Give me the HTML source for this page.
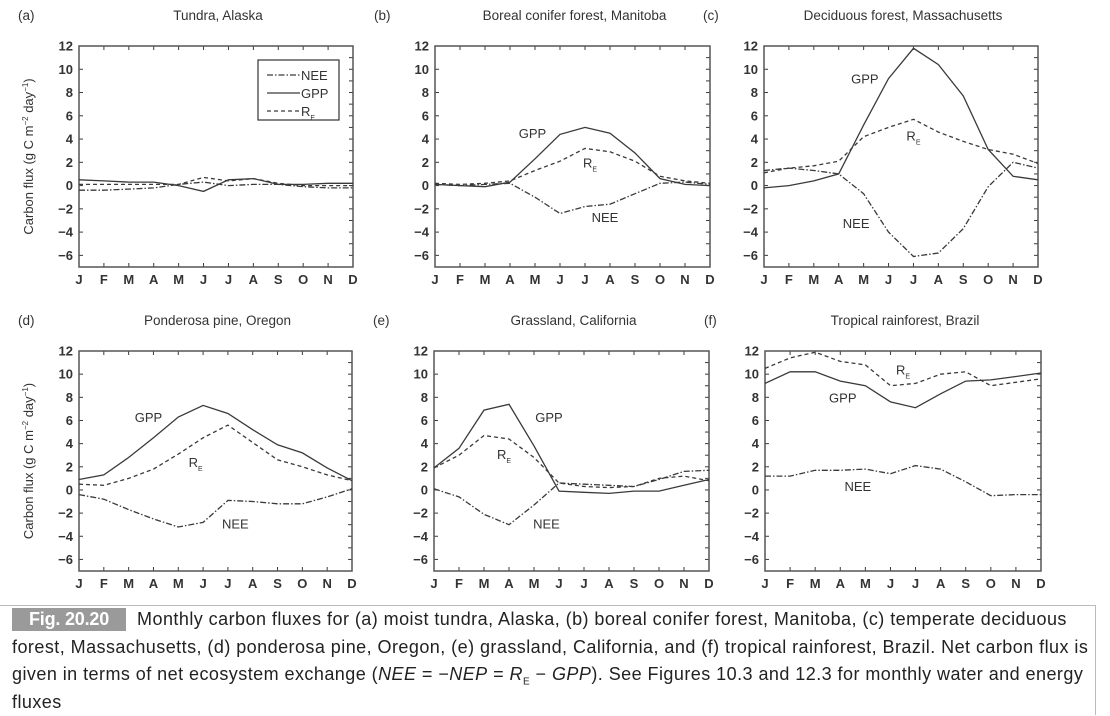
<!DOCTYPE html>
<html><head><meta charset="utf-8">
<style>
html,body{margin:0;padding:0;background:#fff;}
body{width:1110px;height:708px;overflow:hidden;position:relative;font-family:"Liberation Sans",Arial,sans-serif;}
#cap{position:absolute;left:0;top:605px;width:1096px;height:110px;border-top:1px solid #bbb;border-right:1px solid #bbb;
 font-family:"Liberation Sans",sans-serif;font-size:18px;line-height:27.5px;color:#222;padding:0 0 0 12px;box-sizing:border-box;white-space:nowrap;letter-spacing:0.45px;}
#cap .fig{background:#9a9a9a;color:#fff;font-weight:bold;padding:1px 17px 1px 17px;margin-right:11px;display:inline-block;line-height:21px;letter-spacing:-0.2px;}
#cap sub{font-size:10px;line-height:0;}
</style></head>
<body>
<svg id="chart" width="1110" height="605" style="position:absolute;left:0;top:0" font-family="Liberation Sans, Arial, sans-serif"></svg>
<div id="cap"><span class="fig">Fig. 20.20</span>Monthly carbon fluxes for (a) moist tundra, Alaska, (b) boreal conifer forest, Manitoba, (c) temperate deciduous<br>forest, Massachusetts, (d) ponderosa pine, Oregon, (e) grassland, California, and (f) tropical rainforest, Brazil. Net carbon flux is<br>given in terms of net ecosystem exchange (<i>NEE</i> = &minus;<i>NEP</i> = <i>R</i><sub>E</sub> &minus; <i>GPP</i>). See Figures 10.3 and 12.3 for monthly water and energy<br>fluxes</div>
<script>
const months = ["J","F","M","A","M","J","J","A","S","O","N","D"];
const yTicks = [12,10,8,6,4,2,0,-2,-4,-6];
const titles = ["Tundra, Alaska","Boreal conifer forest, Manitoba","Deciduous forest, Massachusetts","Ponderosa pine, Oregon","Grassland, California","Tropical rainforest, Brazil"];
const letters = ["(a)","(b)","(c)","(d)","(e)","(f)"];
const neeA = [-0.4,-0.4,-0.3,-0.2,0.1,0.3,0.0,0.1,0.1,-0.1,-0.2,-0.2];
const gppA = [0.5,0.4,0.3,0.3,0.0,-0.5,0.5,0.6,0.1,0.1,0.2,0.2];
const reA  = [0.1,0.1,0.1,0.1,0.1,0.7,0.4,0.6,0.2,0.0,0.0,0.0];
const neeB = [0.1,0.0,0.1,0.2,-1.0,-2.4,-1.8,-1.6,-0.7,0.2,0.3,0.1];
const gppB = [0.1,0.0,-0.1,0.3,2.3,4.4,5.0,4.5,2.8,0.6,0.1,0.0];
const reB  = [0.2,0.1,0.2,0.4,1.3,2.1,3.2,2.9,2.1,0.8,0.4,0.2];
const neeC = [1.3,1.5,1.3,1.0,-0.7,-4.0,-6.1,-5.8,-3.7,-0.1,2.0,1.5];
const gppC = [-0.2,0.0,0.4,1.0,5.2,9.2,11.8,10.4,7.7,3.1,0.8,0.5];
const reC  = [1.1,1.5,1.7,2.1,4.2,5.0,5.7,4.6,3.8,3.1,2.7,1.9];
const neeD = [-0.4,-0.8,-1.7,-2.5,-3.2,-2.8,-0.9,-1.0,-1.2,-1.2,-0.6,0.1];
const gppD = [0.9,1.3,2.8,4.5,6.3,7.3,6.6,5.2,3.9,3.2,1.9,0.8];
const reD  = [0.5,0.4,1.0,1.8,3.1,4.5,5.6,4.1,2.6,2.0,1.3,0.8];
const neeE = [0.1,-0.6,-2.1,-3.0,-1.3,0.6,0.5,0.4,0.3,0.9,1.6,1.7];
const gppE = [1.9,3.6,6.9,7.4,3.8,-0.1,-0.2,-0.3,-0.1,-0.1,0.4,0.9];
const reE  = [1.9,3.0,4.7,4.4,2.8,0.6,0.3,0.2,0.3,1.0,1.2,0.8];
const neeF = [1.2,1.2,1.7,1.7,1.8,1.4,2.1,1.8,0.7,-0.5,-0.4,-0.4];
const gppF = [9.2,10.2,10.2,9.4,9.0,7.6,7.1,8.3,9.4,9.5,9.8,10.1];
const reF  = [10.5,11.4,11.9,11.1,10.8,9.0,9.2,10.0,10.2,9.0,9.3,9.6];

const svg = document.getElementById('chart');
const NS = 'http://www.w3.org/2000/svg';
function mk(tag, attrs, parent){const e=document.createElementNS(NS,tag);for(const k in attrs)e.setAttribute(k,attrs[k]);(parent||svg).appendChild(e);return e;}

const panels = [
 {x0:79,x1:353,y0:46,y1:267,nee:neeA,gpp:gppA,re:reA,ylab:true,labels:null,legend:true},
 {x0:435,x1:710,y0:46,y1:267,nee:neeB,gpp:gppB,re:reB,labels:[[3.9,4.5],[6.2,2.0],[6.8,-2.7]]},
 {x0:764,x1:1038,y0:46,y1:267,nee:neeC,gpp:gppC,re:reC,labels:[[4.05,9.2],[6.0,4.3],[3.7,-3.2]]},
 {x0:79,x1:352,y0:351,y1:571,nee:neeD,gpp:gppD,re:reD,ylab:true,labels:[[2.8,6.3],[4.7,2.4],[6.3,-2.9]]},
 {x0:434,x1:709,y0:351,y1:571,nee:neeE,gpp:gppE,re:reE,labels:[[4.6,6.3],[2.8,3.1],[4.5,-2.9]]},
 {x0:765,x1:1041,y0:351,y1:571,nee:neeF,gpp:gppF,re:reF,labels:[[3.1,8.0],[5.5,10.4],[3.7,0.35]]}
];
const YMAX=12, YMIN=-7;
const col='#3a3a3a';
panels.forEach((p,i)=>{
  const g = mk('g',{});
  
  
  const xs = m => p.x0 + (p.x1-p.x0)*m/11;
  const ys = v => p.y0 + (p.y1-p.y0)*(YMAX-v)/(YMAX-YMIN);
  const cx=(p.x0+p.x1)/2;
  const t1=mk('text',{x:p.x0-61,y:p.y0-26,'font-size':13.5,fill:'#333'},g); t1.textContent=letters[i];
   
  const t2=mk('text',{x:cx+2,y:p.y0-26,'font-size':13.5,fill:'#333','text-anchor':'middle'},g); t2.textContent=titles[i];
   
  for(let m=0;m<12;m++){
    mk('line',{x1:xs(m),x2:xs(m),y1:p.y1,y2:p.y1-4,stroke:col,'stroke-width':1},g);
    mk('line',{x1:xs(m),x2:xs(m),y1:p.y0,y2:p.y0+4,stroke:col,'stroke-width':1},g);
    const mt=mk('text',{x:xs(m),y:p.y1+17,'font-size':13,'font-weight':'bold',fill:'#333','text-anchor':'middle'},g);
    mt.textContent=months[m];
     
  }
  for(let v=YMIN;v<=YMAX;v++){
    mk('line',{x1:p.x1,x2:p.x1-4,y1:ys(v),y2:ys(v),stroke:col,'stroke-width':1},g);
  }
  yTicks.forEach(v=>{
    mk('line',{x1:p.x0,x2:p.x0+4,y1:ys(v),y2:ys(v),stroke:col,'stroke-width':1},g);
    const yt=mk('text',{x:p.x0-6,y:ys(v)+4.5,'font-size':13,'font-weight':'bold',fill:'#333','text-anchor':'end'},g);
    yt.textContent=(v<0?'\u2212'+(-v):String(v));
     
  });
  mk('rect',{x:p.x0,y:p.y0,width:p.x1-p.x0,height:p.y1-p.y0,fill:'none',stroke:'#555','stroke-width':1.5},g);
  if(p.ylab){
    const yl=mk('text',{x:0,y:0,'font-size':13,fill:'#333','text-anchor':'middle',transform:`translate(${p.x0-46},${(p.y0+p.y1)/2}) rotate(-90)`},g);
    yl.innerHTML='Carbon flux (g C m<tspan font-size="8" dy="-5">\u22122</tspan><tspan dy="5"> day</tspan><tspan font-size="8" dy="-5">\u22121</tspan><tspan dy="5">)</tspan>';
     
  }
  const series=[[p.nee,'6 2 1.5 2','nee'],[p.gpp,'none','gpp'],[p.re,'4 3','re']];
  series.forEach(s=>{
    const d=s[0].map((v,m)=>(m?'L':'M')+xs(m).toFixed(1)+','+ys(v).toFixed(1)).join(' ');
    const path=mk('path',{d:d,fill:'none',stroke:col,'stroke-width':1.3,'stroke-dasharray':s[1]},g);
    
    
  });
  if(p.labels){
    const names=['GPP','RE','NEE'];
    p.labels.forEach((L,k)=>{
      const t=mk('text',{x:xs(L[0]),y:ys(L[1])+5,'font-size':13,fill:'#333','text-anchor':'middle'},g);
      if(names[k]==='RE'){t.innerHTML='R<tspan font-size="7" dy="4">E</tspan>';}
      else t.textContent=names[k];
      
      
    });
  }
  if(p.legend){
    const lg=mk('g',{},g);
     
    mk('rect',{x:258,y:60,width:81,height:60,fill:'#fff',stroke:'#333','stroke-width':1.2},lg);
    const ent=[['NEE','6 2 1.5 2'],['GPP','none'],['R','4 3']];
    ent.forEach((e,k)=>{
      const yy=75+k*18;
      mk('line',{x1:267,x2:300,y1:yy,y2:yy,stroke:col,'stroke-width':1.3,'stroke-dasharray':e[1]},lg);
      const t=mk('text',{x:301,y:yy+5,'font-size':13,fill:'#333'},lg);
      if(e[0]==='R') t.innerHTML='R<tspan font-size="7" dy="4">E</tspan>'; else t.textContent=e[0];
       
    });
  }
});
</script>
</body></html>
